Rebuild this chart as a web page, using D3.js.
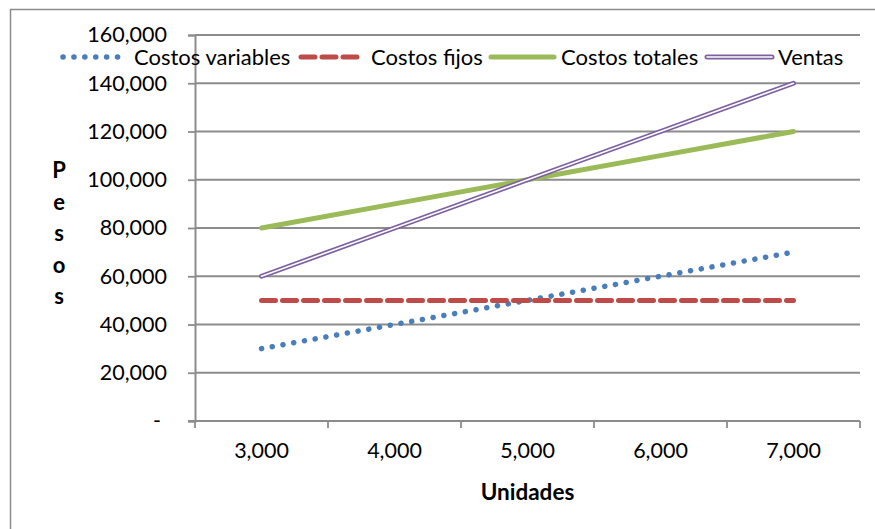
<!DOCTYPE html>
<html><head><meta charset="utf-8">
<script src="https://cdn.jsdelivr.net/npm/d3@7"></script>
<style>body{margin:0;background:#fff}svg{display:block}text{font-family:Lato,"Liberation Sans",sans-serif;fill:#000}</style>
</head><body><svg id="c" width="875" height="529"></svg>
<script>
const units = [3000, 4000, 5000, 6000, 7000];
const costosVariables = [30000, 40000, 50000, 60000, 70000];
const costosFijos = [50000, 50000, 50000, 50000, 50000];
const costosTotales = [80000, 90000, 100000, 110000, 120000];
const ventas = [60000, 80000, 100000, 120000, 140000];
const yTicks = [0, 20000, 40000, 60000, 80000, 100000, 120000, 140000, 160000];
const seriesNames = ["Costos variables", "Costos fijos", "Costos totales", "Ventas"];

const svg = d3.select("#c");
const L = 195, R = 860, T = 35, B = 421;
const fmt = d3.format(",");
const x = d3.scaleBand().domain(units).range([L, R]);
const y = d3.scaleLinear().domain([0, 160000]).range([B, T]);
const grid = "#8c8c8c";

// outer border
svg.append("rect").attr("x", 10.5).attr("y", 9.5).attr("width", 900).attr("height", 600)
  .attr("fill", "none").attr("stroke", grid).attr("stroke-width", 1.5);

// gridlines
svg.append("g").selectAll("line").data(yTicks.slice(1)).join("line")
  .attr("x1", L).attr("x2", R).attr("y1", d => y(d)).attr("y2", d => y(d))
  .attr("stroke", grid).attr("stroke-width", 1.8);

// y axis
const ya = svg.append("g").attr("transform", `translate(${L},0)`)
  .call(d3.axisLeft(y).tickValues(yTicks).tickSize(7).tickPadding(21)
    .tickFormat(d => d === 0 ? "-" : fmt(d)));
ya.select(".domain").attr("stroke", grid).attr("stroke-width", 2);
ya.selectAll(".tick line").attr("stroke", grid).attr("stroke-width", 1.8);
ya.selectAll(".tick text").attr("font-size", 21.5).style("font-family", "Lato");
ya.selectAll(".tick text").filter(d => d === 0).attr("dx", -6);

// x axis
const xa = svg.append("g").attr("transform", `translate(0,${B})`)
  .call(d3.axisBottom(x).tickSize(0).tickPadding(22).tickFormat(d => fmt(d)));
xa.select(".domain").attr("stroke", grid).attr("stroke-width", 2.2).attr("d", `M${L - 7},0H${R}`);
xa.selectAll(".tick text").attr("font-size", 21.5).style("font-family", "Lato");
const edges = units.map(u => x(u)).concat([R]);
svg.append("g").selectAll("line").data(edges).join("line")
  .attr("x1", d => d).attr("x2", d => d).attr("y1", B).attr("y2", B + 7)
  .attr("stroke", grid).attr("stroke-width", 1.8);

// axis titles
svg.append("text").attr("x", (L + R) / 2).attr("y", 500).attr("text-anchor", "middle")
  .attr("font-size", 22.5).attr("font-weight", "bold").text("Unidades");
const yt = svg.append("text").attr("x", 59).attr("text-anchor", "middle").attr("font-size", 22).attr("font-weight", "bold");
"Pesos".split("").forEach((c, i) => {
  yt.append("tspan").attr("x", 59).attr("y", 178 + i * 31.5).text(c);
});

// lines
const cx = d => x(d) + x.bandwidth() / 2;
const line = d3.line().x((d, i) => cx(units[i])).y(d => y(d));
const styles = [
  {data: costosVariables, color: "#4a7ebb", w: 5.5, dash: "0.1 10.8", cap: "round"},
  {data: costosFijos, color: "#be4b48", w: 5, dash: "14 7", cap: "round"},
  {data: costosTotales, color: "#9bbb59", w: 5, dash: null, cap: "round"},
  {data: ventas, color: "#7d60a0", w: 5, dash: null, cap: "round", double: true}
];
styles.forEach(s => {
  svg.append("path").attr("d", line(s.data)).attr("fill", "none").attr("stroke", s.color)
    .attr("stroke-width", s.w).attr("stroke-dasharray", s.dash).attr("stroke-linecap", s.cap);
  if (s.double) svg.append("path").attr("d", line(s.data)).attr("fill", "none").attr("stroke", "#fff")
    .attr("stroke-width", 1.6).attr("stroke-linecap", "round");
});

// legend
const legX = [[63, 122, 134], [301, 358, 371], [491, 554, 561], [707, 772, 778]];
const ly = 57;
const lg = svg.append("g");
styles.forEach((s, i) => {
  const [a, b, t] = legX[i];
  lg.append("line").attr("x1", a).attr("x2", b).attr("y1", ly).attr("y2", ly).attr("stroke", s.color)
    .attr("stroke-width", s.w).attr("stroke-dasharray", s.dash).attr("stroke-linecap", s.cap);
  if (s.double) lg.append("line").attr("x1", a).attr("x2", b).attr("y1", ly).attr("y2", ly)
    .attr("stroke", "#fff").attr("stroke-width", 1.6).attr("stroke-linecap", "round");
  lg.append("text").attr("x", t).attr("y", ly).attr("dy", "0.36em").attr("font-size", 22).text(seriesNames[i]);
});
</script></body></html>
